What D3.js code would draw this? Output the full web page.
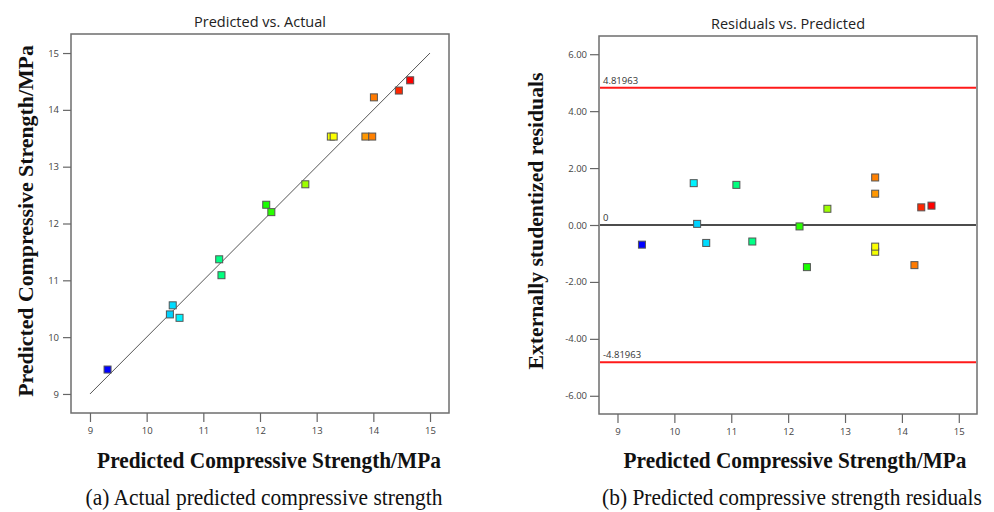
<!DOCTYPE html>
<html>
<head>
<meta charset="utf-8">
<script src="https://cdn.jsdelivr.net/npm/d3@7"></script>
<style>
    body { margin: 0; background: #fff; }
    svg { display: block; }
</style>
</head>
<body>
<div id="chart"></div>
<script>
// runs, ordered by actual strength
var actual = [9.31, 10.41, 10.46, 10.58, 11.28, 11.32, 12.11, 12.20, 12.80, 13.25, 13.30, 13.86, 13.98, 14.01, 14.45, 14.65];
var predicted = [9.43, 10.40, 10.56, 10.34, 11.37, 11.09, 12.33, 12.20, 12.69, 13.53, 13.53, 13.53, 13.53, 14.22, 14.34, 14.52];
var residuals = [-0.69, 0.04, -0.63, 1.47, -0.58, 1.41, -1.48, -0.05, 0.57, -0.94, -0.76, 1.10, 1.67, -1.41, 0.62, 0.68];

var strengthTicks = [9, 10, 11, 12, 13, 14, 15];
var residualTicks = [-6, -4, -2, 0, 2, 4, 6];
var limit = 4.81963;

var width = 994, height = 512;
var svg = d3.select("#chart").append("svg")
    .attr("width", width)
    .attr("height", height);

// rainbow colouring by actual value, blue -> red
var ext = d3.extent(actual);
var colorScale = d3.scaleLinear()
    .domain(d3.range(5).map(i => ext[0] + (ext[1] - ext[0]) * i / 4))
    .range(["#0000ff", "#00ffff", "#00ff00", "#ffff00", "#ff0000"]);

var tickFont = "'Open Sans', 'Noto Sans', sans-serif";
var serif = "'Liberation Serif', 'Times New Roman', serif";

function drawFrame(g, box, title, titleY) {
    g.append("rect")
        .attr("x", box.x0)
        .attr("y", box.y0)
        .attr("width", box.x1 - box.x0)
        .attr("height", box.y1 - box.y0)
        .attr("fill", "none")
        .attr("stroke", "#6e6e6e")
        .attr("stroke-width", 1.5);
    g.append("text")
        .attr("x", (box.x0 + box.x1) / 2)
        .attr("y", titleY)
        .attr("text-anchor", "middle")
        .attr("font-family", tickFont)
        .attr("font-size", 14.5)
        .attr("fill", "#222")
        .text(title);
}

function styleAxis(ax) {
    ax.select(".domain").remove();
    ax.selectAll(".tick line").attr("stroke", "#666").attr("stroke-width", 1.2);
    ax.selectAll(".tick text")
        .attr("font-family", tickFont)
        .attr("font-size", 9.5)
        .attr("fill", "#444");
}

function drawSquares(g, xs, ys, x, y) {
    var s = 7;
    g.selectAll("rect.pt")
        .data(d3.range(xs.length))
        .enter()
        .append("rect")
        .attr("class", "pt")
        .attr("x", i => x(xs[i]) - s / 2)
        .attr("y", i => y(ys[i]) - s / 2)
        .attr("width", s)
        .attr("height", s)
        .attr("fill", i => colorScale(actual[i]))
        .attr("stroke", "#555")
        .attr("stroke-width", 1);
}

// serif label squeezed horizontally to a given length (the source image is condensed)
function labelText(g, txt, x, y, len, opts) {
    var t = g.append("text")
        .attr("x", 0)
        .attr("y", 0)
        .attr("dy", opts.dy || 0)
        .attr("text-anchor", "middle")
        .attr("font-family", serif)
        .attr("font-size", opts.size)
        .attr("font-weight", opts.bold ? "bold" : "normal")
        .attr("fill", "#111")
        .text(txt);
    var w = t.node().getComputedTextLength();
    var k = len / w;
    var rot = opts.rotate ? " rotate(-90)" : "";
    t.attr("transform", "translate(" + x + "," + y + ")" + rot + " scale(" + k + ",1)");
    return t;
}

// ---------- (a) predicted vs actual ----------
var boxA = { x0: 71, x1: 449, y0: 34, y1: 413 };
var gA = svg.append("g");
var xA = d3.scaleLinear().domain([8.665, 15.335]).range([boxA.x0, boxA.x1]);
var yA = d3.scaleLinear().domain([8.665, 15.335]).range([boxA.y1, boxA.y0]);

drawFrame(gA, boxA, "Predicted vs. Actual", 27);

gA.append("g")
    .attr("transform", "translate(0," + boxA.y1 + ")")
    .call(d3.axisBottom(xA).tickValues(strengthTicks).tickFormat(d3.format("d"))
        .tickSize(9).tickPadding(5).tickSizeOuter(0))
    .call(styleAxis);
gA.append("g")
    .attr("transform", "translate(" + boxA.x0 + ",0)")
    .call(d3.axisLeft(yA).tickValues(strengthTicks).tickFormat(d3.format("d"))
        .tickSize(8).tickPadding(4).tickSizeOuter(0))
    .call(styleAxis);

gA.append("line")
    .attr("x1", xA(9)).attr("y1", yA(9))
    .attr("x2", xA(15)).attr("y2", yA(15))
    .attr("stroke", "#555")
    .attr("stroke-width", 1);

drawSquares(gA, actual, predicted, xA, yA);

labelText(gA, "Predicted Compressive Strength/MPa", 25, 221, 352, { size: 22, bold: true, rotate: true, dy: "0.35em" });
labelText(gA, "Predicted Compressive Strength/MPa", 269, 468, 344, { size: 24, bold: true });
labelText(gA, "(a) Actual predicted compressive strength", 264, 505, 357, { size: 24 });

// ---------- (b) residuals vs predicted ----------
var boxB = { x0: 599, x1: 977, y0: 36, y1: 414 };
var gB = svg.append("g");
var xB = d3.scaleLinear().domain([8.675, 15.32]).range([boxB.x0, boxB.x1]);
var yB = d3.scaleLinear().domain([-6.64, 6.64]).range([boxB.y1, boxB.y0]);

drawFrame(gB, boxB, "Residuals vs. Predicted", 29);

gB.append("g")
    .attr("transform", "translate(0," + boxB.y1 + ")")
    .call(d3.axisBottom(xB).tickValues(strengthTicks).tickFormat(d3.format("d"))
        .tickSize(9).tickPadding(5).tickSizeOuter(0))
    .call(styleAxis);
gB.append("g")
    .attr("transform", "translate(" + boxB.x0 + ",0)")
    .call(d3.axisLeft(yB).tickValues(residualTicks).tickSize(9).tickPadding(3).tickSizeOuter(0)
        .tickFormat(d => d.toFixed(2)))
    .call(styleAxis);

[limit, -limit].forEach(v => {
    gB.append("line")
        .attr("x1", boxB.x0 + 1).attr("x2", boxB.x1 - 1)
        .attr("y1", yB(v)).attr("y2", yB(v))
        .attr("stroke", "#ff1a1a")
        .attr("stroke-width", 2);
    gB.append("text")
        .attr("x", boxB.x0 + 4)
        .attr("y", yB(v) - 4)
        .attr("font-family", tickFont)
        .attr("font-size", 9.5)
        .attr("fill", "#333")
        .text(v > 0 ? "4.81963" : "-4.81963");
});
gB.append("line")
    .attr("x1", boxB.x0 + 1).attr("x2", boxB.x1 - 1)
    .attr("y1", yB(0)).attr("y2", yB(0))
    .attr("stroke", "#111")
    .attr("stroke-width", 1.5);
gB.append("text")
    .attr("x", boxB.x0 + 4)
    .attr("y", yB(0) - 4)
    .attr("font-family", tickFont)
    .attr("font-size", 9.5)
    .attr("fill", "#333")
    .text("0");

drawSquares(gB, predicted, residuals, xB, yB);

labelText(gB, "Externally studentized residuals", 535, 221, 297, { size: 22, bold: true, rotate: true, dy: "0.35em" });
labelText(gB, "Predicted Compressive Strength/MPa", 795, 468, 343, { size: 24, bold: true });
labelText(gB, "(b) Predicted compressive strength residuals", 792, 505, 380, { size: 24 });
</script>
</body>
</html>
